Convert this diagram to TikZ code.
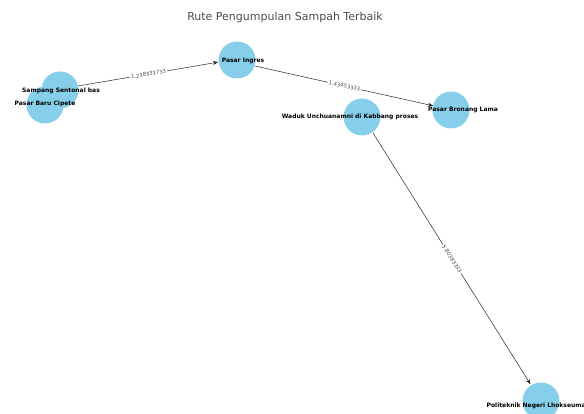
\documentclass[tikz,border=0pt]{standalone}
\usepackage{fontspec}
\setmainfont{DejaVu Sans}
\usetikzlibrary{arrows.meta}
\definecolor{skyb}{HTML}{87CEEB}
\begin{document}
\begin{tikzpicture}[x=1pt,y=-1pt,
  place/.style={circle,fill=skyb,minimum size=37pt,inner sep=0pt},
  lbl/.style={font=\bfseries\fontsize{6}{7}\selectfont,inner sep=0pt},
  edge/.style={draw=black!85,line width=0.5pt,-{Stealth[length=5pt,width=4pt]},shorten >=1pt},
  wlbl/.style={font=\fontsize{5.3}{6}\selectfont,text=black!70,fill=white,inner sep=1pt,rounded corners=1pt}]
\useasboundingbox (0,0) rectangle (584,414);
\node[font=\fontsize{11}{13}\selectfont,text=black!70] (title) at (285,17) {Rute Pengumpulan Sampah Terbaik};
\node[place] (ka) at (60,90) {};
\node[place] (pb) at (45,105) {};
\node[place] (pi) at (237,60) {};
\node[place] (wd) at (362,117) {};
\node[place] (pl) at (451,110) {};
\node[place] (po) at (541,401) {};
\node[lbl] (lka) at (61,91) {Sampang Sentonal bas};
\node[lbl] (lpb) at (45,104) {Pasar Baru Cipete};
\node[lbl] (lpi) at (243,61) {Pasar Ingres};
\node[lbl] (lwd) at (350,117) {Waduk Unchuanamni di Kabbang proses};
\node[lbl] (lpl) at (463,110) {Pasar Bronang Lama};
\node[lbl] (lpo) at (541,406) {Politeknik Negeri Lhokseumawe};
\coordinate (a1) at (78,86);
\coordinate (a2) at (219,62);
\coordinate (b1) at (255,66);
\coordinate (b2) at (434,106);
\coordinate (c1) at (373,133);
\coordinate (c2) at (531,385);
\draw[edge] (a1) -- (a2) node[wlbl,midway,sloped] (e1) {1.238333733};
\draw[edge] (b1) -- (b2) node[wlbl,midway,sloped] (e2) {1.43453333};
\draw[edge] (c1) -- (c2) node[wlbl,pos=0.5,sloped] (e3) {5.80383333};
\end{tikzpicture}
\end{document}
